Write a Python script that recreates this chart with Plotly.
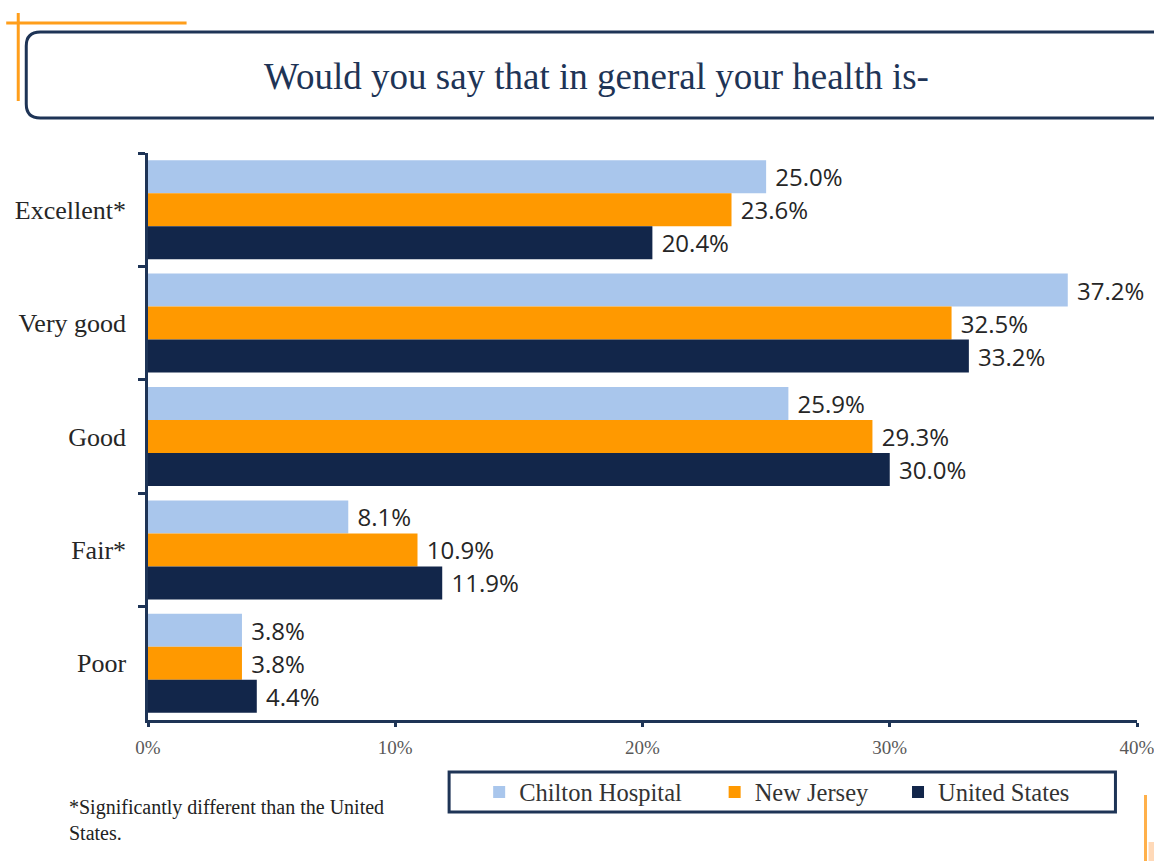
import plotly.graph_objects as go

categories = ["Excellent*", "Very good", "Good", "Fair*", "Poor"]
chilton = [25.0, 37.2, 25.9, 8.1, 3.8]
new_jersey = [23.6, 32.5, 29.3, 10.9, 3.8]
united_states = [20.4, 33.2, 30.0, 11.9, 4.4]
series_names = ["Chilton Hospital", "New Jersey", "United States"]
x_tick_vals = [0, 10, 20, 30, 40]
x_tick_text = ["0%", "10%", "20%", "30%", "40%"]
title_text = "Would you say that in general your health is-"
footnote_text = "*Significantly different than the United<br>States."

colors = ["#A9C6EC", "#FF9900", "#12264A"]
navy = "#1E3456"
orange = "#FF9E1B"

# horizontal compensation observed in the rendering environment
SX = 1 / 0.989
FIG_W, FIG_H = round(1154 * SX), 861
L, R, T, B = 146.5 * SX, 1133.5 * SX, 153, 720
W, H = R - L, B - T


def px(x):
    return (x * SX - L) / W


def py(y):
    return (B - y) / H


fig = go.Figure()
legend_ids = ["legend", "legend2", "legend3"]
for name, vals, col, lg in zip(series_names, [chilton, new_jersey, united_states], colors, legend_ids):
    fig.add_trace(go.Bar(
        y=categories, x=vals, name=name, orientation="h",
        marker=dict(color=col, line=dict(width=0)),
        text=["\u00a0" + f"{v:.1f}%" for v in vals], textposition="outside",
        textfont=dict(family="Open Sans", size=24, color="#262626"),
        constraintext="none", cliponaxis=False, legend=lg,
        hoverinfo="skip",
    ))

# rounded title box (extends past right edge)
x0, x1, y0, y1, r = 25, 1166, 32, 118, 14
pts = [
    ("M", [(x0 + r, y0)]), ("L", [(x1 - r, y0)]), ("Q", [(x1, y0), (x1, y0 + r)]),
    ("L", [(x1, y1 - r)]), ("Q", [(x1, y1), (x1 - r, y1)]), ("L", [(x0 + r, y1)]),
    ("Q", [(x0, y1), (x0, y1 - r)]), ("L", [(x0, y0 + r)]), ("Q", [(x0, y0), (x0 + r, y0)]),
]
path = " ".join(c + " " + " ".join(f"{px(a):.5f},{py(b):.5f}" for a, b in p) for c, p in pts) + " Z"

shapes = [
    dict(type="path", xref="paper", yref="paper", path=path, line=dict(color=navy, width=3)),
    dict(type="line", xref="paper", yref="paper", x0=px(5), x1=px(185), y0=py(23), y1=py(23),
         line=dict(color=orange, width=3)),
    dict(type="line", xref="paper", yref="paper", x0=px(17), x1=px(17), y0=py(13), y1=py(101),
         line=dict(color=orange, width=3)),
    dict(type="line", xref="paper", yref="paper", x0=px(1142), x1=px(1142), y0=py(795), y1=py(861),
         line=dict(color="#FFB04A", width=3)),
    dict(type="rect", xref="paper", yref="paper", x0=px(1145), x1=px(1156), y0=py(842), y1=py(861),
         fillcolor="#FFC99A", opacity=0.7, line=dict(width=0)),
    dict(type="rect", xref="paper", yref="paper", x0=px(447), x1=px(1112), y0=py(772), y1=py(812),
         line=dict(color=navy, width=3), fillcolor="rgba(0,0,0,0)"),
]

annotations = [
    dict(xref="paper", yref="paper", x=px(594), y=py(76), text=title_text, showarrow=False,
         xanchor="center", yanchor="middle",
         font=dict(family="Liberation Serif", size=37, color=navy)),
    dict(xref="paper", yref="paper", x=px(66), y=py(794), text=footnote_text, showarrow=False,
         xanchor="left", yanchor="top", align="left",
         font=dict(family="Liberation Serif", size=20, color="#222222")),
]

legend_font = dict(family="Liberation Serif", size=24.5, color="#333333")
legend_lefts = [477, 712, 895]
layout_legends = {}
for lg, lx in zip(legend_ids, legend_lefts):
    layout_legends[lg] = dict(orientation="h", x=px(lx), y=py(792), xanchor="left", yanchor="middle",
                              bgcolor="rgba(0,0,0,0)", borderwidth=0, font=legend_font)

fig.update_layout(
    width=FIG_W, height=FIG_H,
    margin=dict(l=L, r=FIG_W - R, t=T, b=FIG_H - B, pad=0),
    paper_bgcolor="white", plot_bgcolor="white",
    barmode="group", bargap=0.127, bargroupgap=0,
    showlegend=True,
    shapes=shapes, annotations=annotations,
    **layout_legends,
)
fig.update_xaxes(
    range=[0, 40], tickvals=x_tick_vals, ticktext=x_tick_text,
    showgrid=False, zeroline=False, showline=True, linecolor=navy, linewidth=2.5,
    ticks="outside", ticklen=4, tickwidth=2.5, tickcolor=navy,
    tickfont=dict(family="Liberation Serif", size=19, color="#595959"),
    ticklabelstandoff=4,
)
fig.update_yaxes(
    autorange="reversed", showgrid=False, zeroline=False, showline=True,
    linecolor=navy, linewidth=2.5, ticks="outside", tickson="boundaries",
    ticklen=7, tickwidth=2.5, tickcolor=navy,
    tickfont=dict(family="Liberation Serif", size=26, color="#262626"),
    ticklabelstandoff=14,
)

fig.write_html(
    "out.html",
    config={"displayModeBar": False},
    post_script="document.body.style.margin='0';document.body.style.overflow='hidden';",
)
